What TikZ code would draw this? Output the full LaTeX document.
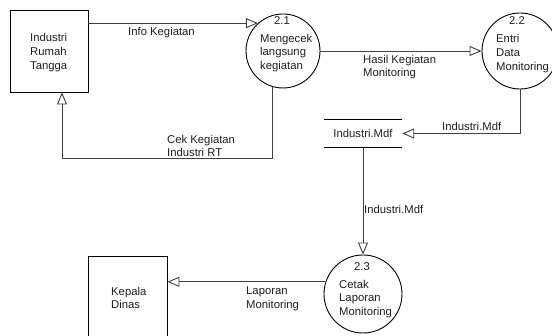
\documentclass[tikz,border=0pt]{standalone}
\usepackage{fontspec}
\setmainfont{Liberation Sans}
\usetikzlibrary{arrows.meta,calc}
\begin{document}
\begin{tikzpicture}[x=1pt,y=-1pt,
  lbl/.style={inner sep=0pt,align=left,anchor=north west,text=black!88,
    font=\fontsize{11.3}{13.6}\selectfont},
  num/.style={inner sep=0pt,anchor=base,text=black!88,font=\fontsize{11.3}{13.6}\selectfont},
  entity/.style={draw=black,line width=0.9pt,rectangle,inner sep=0pt},
  proc/.style={draw=black,line width=0.9pt,circle,inner sep=0pt},
  store/.style={rectangle,inner sep=0pt,text=black!88,font=\fontsize{11.3}{13.6}\selectfont},
  flow/.style={draw=black!75,line width=0.9pt,
    -{Triangle[open,length=12pt,width=10pt,fill=white]}},
  plain/.style={draw=black!75,line width=0.9pt}]
\useasboundingbox (0,0) rectangle (552,336);
\fill[white] (0,0) rectangle (552,336);
% entities
\node[entity,minimum width=78pt,minimum height=82pt] (irt) at (49,51) {};
\node[entity,minimum width=79pt,minimum height=90pt] (kd) at (127.5,301) {};
% processes
\node[proc,minimum size=74pt] (p21) at (283,51) {};
\node[proc,minimum size=76pt] (p22) at (520,51) {};
\node[proc,minimum size=78pt] (p23) at (363,294) {};
% data store
\node[store,minimum width=78pt,minimum height=27pt] (ds) at (363,133.5) {Industri.Mdf};
\draw[plain,draw=black] (ds.north west) -- (ds.north east);
\draw[plain,draw=black] (ds.south west) -- (ds.south east);
% texts
\node[lbl] (tirt) at (30,33.5) {Industri\\Rumah\\Tangga};
\node[lbl] (tkd) at (111,287) {Kepala\\Dinas};
\node[num] (n21) at (282,25) {2.1};
\node[lbl] (t21) at (260,34) {Mengecek\\langsung\\kegiatan};
\node[num] (n22) at (517,25) {2.2};
\node[lbl] (t22) at (496,34.5) {Entri\\Data\\Monitoring};
\node[num] (n23) at (362,271) {2.3};
\node[lbl] (t23) at (339,280) {Cetak\\Laporan\\Monitoring};
% flow labels
\node[lbl] (l1) at (128,27) {Info Kegiatan};
\node[lbl] (l2) at (363,55) {Hasil Kegiatan\\Monitoring};
\node[lbl] (l3) at (167,135) {Cek Kegiatan\\Industri RT};
\node[lbl] (l4) at (442,122.5) {Industri.Mdf};
\node[lbl] (l5) at (364,205) {Industri.Mdf};
\node[lbl] (l6) at (246,287) {Laporan\\Monitoring};
% flows
\draw[flow] (irt.east |- p21.132) -- (p21.132);
\draw[flow] (p21.east) -- (p22.west);
\coordinate (c1) at (62,158);
\draw[plain] (p21.253) |- (c1);
\draw[flow] (c1) -- (irt.south -| c1);
\draw[flow] (p22.south) |- (ds.east);
\draw[flow] (ds.south) -- (p23.north);
\draw[flow] (p23.162) -- (kd.east |- p23.162);
\end{tikzpicture}
\end{document}
